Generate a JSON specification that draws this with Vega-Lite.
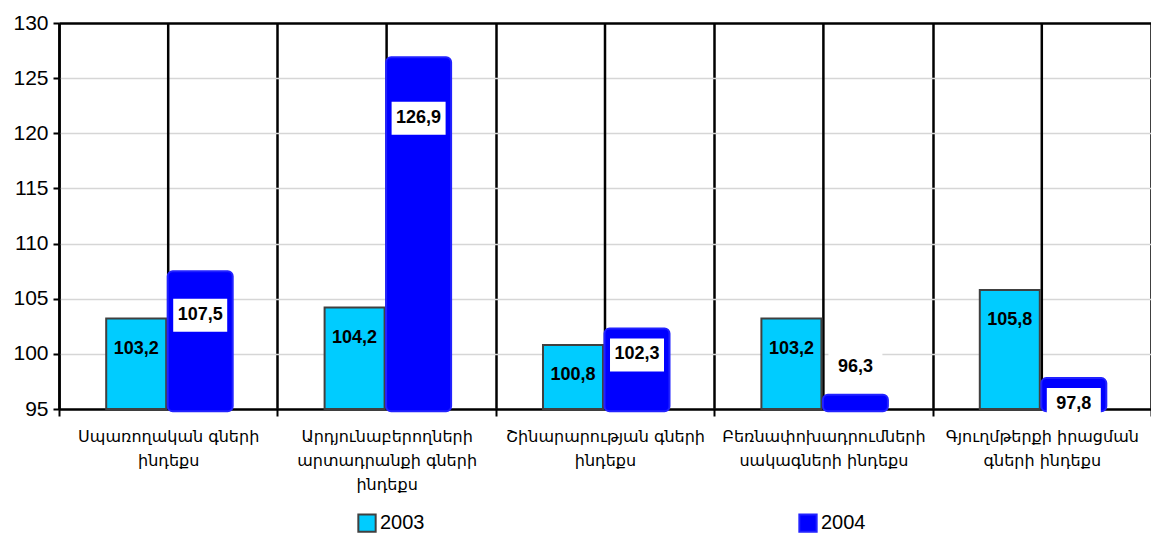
{
  "$schema": "https://vega.github.io/schema/vega-lite/v6.json",
  "width": 1092,
  "height": 386,
  "autosize": {"type": "none"},
  "padding": {"left": 59, "top": 23, "right": 0, "bottom": 128},
  "config": {
    "view": {"stroke": null},
    "font": "Liberation Sans",
    "locale": {"number": {"decimal": ",", "thousands": " ", "grouping": [3], "currency": ["", ""]}}
  },
  "data": {
    "values": [
      {"category": "Սպառողական գների\nինդեքս", "year": "2003", "value": 103.2},
      {"category": "Սպառողական գների\nինդեքս", "year": "2004", "value": 107.5},
      {"category": "Արդյունաբերողների\nարտադրանքի գների\nինդեքս", "year": "2003", "value": 104.2},
      {"category": "Արդյունաբերողների\nարտադրանքի գների\nինդեքս", "year": "2004", "value": 126.9},
      {"category": "Շինարարության գների\nինդեքս", "year": "2003", "value": 100.8},
      {"category": "Շինարարության գների\nինդեքս", "year": "2004", "value": 102.3},
      {"category": "Բեռնափոխադրումների\nսակագների ինդեքս", "year": "2003", "value": 103.2},
      {"category": "Բեռնափոխադրումների\nսակագների ինդեքս", "year": "2004", "value": 96.3},
      {"category": "Գյուղմթերքի իրացման\nգների ինդեքս", "year": "2003", "value": 105.8},
      {"category": "Գյուղմթերքի իրացման\nգների ինդեքս", "year": "2004", "value": 97.8}
    ]
  },
  "encoding": {
    "x": {
      "field": "category",
      "type": "nominal",
      "sort": null,
      "title": null,
      "scale": {"paddingInner": 0, "paddingOuter": 0},
      "axis": {
        "tickBand": "extent",
        "grid": true,
        "gridColor": "black",
        "gridWidth": 2.5,
        "ticks": true,
        "tickColor": "black",
        "tickWidth": 2,
        "tickSize": 7,
        "domainColor": "black",
        "domainWidth": 2.5,
        "labelAngle": 0,
        "labelExpr": "split(datum.label, '\\n')",
        "labelFont": "DejaVu Sans",
        "labelFontSize": 16,
        "labelLineHeight": 24,
        "labelColor": "black",
        "labelPadding": 12,
        "labelLimit": 0
      }
    }
  },
  "layer": [
    {
      "transform": [{"filter": "datum.year === '2003'"}],
      "mark": {"type": "rule", "color": "black", "strokeWidth": 2.5},
      "encoding": {}
    },
    {
      "transform": [{"filter": "datum.year === '2003'"}],
      "mark": {"type": "bar", "width": 60, "strokeWidth": 2, "opacity": 1},
      "encoding": {
        "xOffset": {"field": "year", "type": "nominal", "scale": {"domain": ["2003", "2004"], "paddingInner": 0, "paddingOuter": 0.706}},
        "y": {
          "field": "value", "type": "quantitative", "title": null,
          "scale": {"domain": [95, 130], "nice": false, "zero": false},
          "axis": {
            "values": [95, 100, 105, 110, 115, 120, 125, 130],
            "grid": true,
            "gridColor": {"condition": {"test": "datum.value === 130", "value": "black"}, "value": "#d6d6d6"},
            "gridWidth": {"condition": {"test": "datum.value === 130", "value": 2.5}, "value": 1.5},
            "domainColor": "black", "domainWidth": 2.5,
            "tickColor": "black", "tickWidth": 2, "tickSize": 6,
            "labelFontSize": 21, "labelColor": "black", "labelPadding": 5
          }
        },
        "y2": {"datum": 95},
        "color": {"field": "year", "type": "nominal", "title": null,
          "scale": {"domain": ["2003", "2004"], "range": ["#00CCFF", "#0000FF"]},
          "legend": {"orient": "none", "legendX": 298, "legendY": 490, "direction": "horizontal", "columnPadding": 370, "symbolType": "square", "symbolSize": 300, "symbolStrokeWidth": 2, "labelFontSize": 20, "labelColor": "black", "labelOffset": 3}},
        "stroke": {"field": "year", "type": "nominal", "title": null,
          "scale": {"domain": ["2003", "2004"], "range": ["#404040", "#2222ff"]},
          "legend": {"orient": "none", "legendX": 298, "legendY": 490, "direction": "horizontal", "columnPadding": 370, "symbolType": "square", "symbolSize": 300, "symbolStrokeWidth": 2, "labelFontSize": 20, "labelColor": "black", "labelOffset": 3}}
      }
    },
    {
      "transform": [{"filter": "datum.year === '2004'"}],
      "mark": {"type": "bar", "width": 65, "strokeWidth": 2, "cornerRadius": 5, "opacity": 1},
      "encoding": {
        "xOffset": {"field": "year", "type": "nominal", "scale": {"domain": ["2003", "2004"], "paddingInner": 0, "paddingOuter": 0.706}},
        "y": {
          "field": "value", "type": "quantitative", "title": null,
          "scale": {"domain": [95, 130], "nice": false, "zero": false},
          "axis": {
            "values": [95, 100, 105, 110, 115, 120, 125, 130],
            "grid": true,
            "gridColor": {"condition": {"test": "datum.value === 130", "value": "black"}, "value": "#d6d6d6"},
            "gridWidth": {"condition": {"test": "datum.value === 130", "value": 2.5}, "value": 1.5},
            "domainColor": "black", "domainWidth": 2.5,
            "tickColor": "black", "tickWidth": 2, "tickSize": 6,
            "labelFontSize": 21, "labelColor": "black", "labelPadding": 5
          }
        },
        "y2": {"datum": 94.8},
        "color": {"field": "year", "type": "nominal", "title": null,
          "scale": {"domain": ["2003", "2004"], "range": ["#00CCFF", "#0000FF"]},
          "legend": {"orient": "none", "legendX": 298, "legendY": 490, "direction": "horizontal", "columnPadding": 370, "symbolType": "square", "symbolSize": 300, "symbolStrokeWidth": 2, "labelFontSize": 20, "labelColor": "black", "labelOffset": 3}},
        "stroke": {"field": "year", "type": "nominal", "title": null,
          "scale": {"domain": ["2003", "2004"], "range": ["#404040", "#2222ff"]},
          "legend": {"orient": "none", "legendX": 298, "legendY": 490, "direction": "horizontal", "columnPadding": 370, "symbolType": "square", "symbolSize": 300, "symbolStrokeWidth": 2, "labelFontSize": 20, "labelColor": "black", "labelOffset": 3}}
      }
    },
    {
      "transform": [{"filter": "datum.year === '2003'"}],
      "mark": {"type": "text", "dy": 30, "fontSize": 18, "fontWeight": "bold", "color": "black", "baseline": "middle"},
      "encoding": {
        "xOffset": {"field": "year", "type": "nominal", "scale": {"domain": ["2003", "2004"], "paddingInner": 0, "paddingOuter": 0.706}},
        "y": {"field": "value", "type": "quantitative", "scale": {"domain": [95, 130], "nice": false, "zero": false}, "title": null},
        "text": {"field": "value", "type": "quantitative", "format": ".1f"}
      }
    },
    {
      "transform": [{"filter": "datum.year === '2004' && datum.value > 120"}],
      "layer": [
        {"mark": {"type": "point", "filled": true, "color": "white", "opacity": 1, "size": 2916, "shape": "M-1,1.648H1V2.87H-1Z"}},
        {"mark": {"type": "text", "dy": 61, "fontSize": 18, "fontWeight": "bold", "color": "black", "baseline": "middle"},
         "encoding": {"text": {"field": "value", "type": "quantitative", "format": ".1f"}}}
      ],
      "encoding": {
        "xOffset": {"field": "year", "type": "nominal", "scale": {"domain": ["2003", "2004"], "paddingInner": 0, "paddingOuter": 0.706}},
        "y": {"field": "value", "type": "quantitative", "scale": {"domain": [95, 130], "nice": false, "zero": false}, "title": null}
      }
    },
    {
      "transform": [{"filter": "datum.year === '2004' && datum.value > 105 && datum.value <= 120"}],
      "layer": [
        {"mark": {"type": "point", "filled": true, "color": "white", "opacity": 1, "size": 2916, "shape": "M-1,1.019H1V2.241H-1Z"}},
        {"mark": {"type": "text", "dy": 44, "fontSize": 18, "fontWeight": "bold", "color": "black", "baseline": "middle"},
         "encoding": {"text": {"field": "value", "type": "quantitative", "format": ".1f"}}}
      ],
      "encoding": {
        "xOffset": {"field": "year", "type": "nominal", "scale": {"domain": ["2003", "2004"], "paddingInner": 0, "paddingOuter": 0.706}},
        "y": {"field": "value", "type": "quantitative", "scale": {"domain": [95, 130], "nice": false, "zero": false}, "title": null}
      }
    },
    {
      "transform": [{"filter": "datum.year === '2004' && datum.value > 97 && datum.value <= 105"}],
      "layer": [
        {"mark": {"type": "point", "filled": true, "color": "white", "opacity": 1, "size": 2916, "shape": "M-1,0.37H1V1.592H-1Z"}},
        {"mark": {"type": "text", "dy": 26, "fontSize": 18, "fontWeight": "bold", "color": "black", "baseline": "middle"},
         "encoding": {"text": {"field": "value", "type": "quantitative", "format": ".1f"}}}
      ],
      "encoding": {
        "xOffset": {"field": "year", "type": "nominal", "scale": {"domain": ["2003", "2004"], "paddingInner": 0, "paddingOuter": 0.706}},
        "y": {"field": "value", "type": "quantitative", "scale": {"domain": [95, 130], "nice": false, "zero": false}, "title": null}
      }
    },
    {
      "transform": [{"filter": "datum.year === '2004' && datum.value <= 97"}],
      "layer": [
        {"mark": {"type": "point", "filled": true, "color": "white", "opacity": 1, "size": 2916, "shape": "M-1,-1.648H1V-0.426H-1Z"}},
        {"mark": {"type": "text", "dy": -28, "fontSize": 18, "fontWeight": "bold", "color": "black", "baseline": "middle"},
         "encoding": {"text": {"field": "value", "type": "quantitative", "format": ".1f"}}}
      ],
      "encoding": {
        "xOffset": {"field": "year", "type": "nominal", "scale": {"domain": ["2003", "2004"], "paddingInner": 0, "paddingOuter": 0.706}},
        "y": {"field": "value", "type": "quantitative", "scale": {"domain": [95, 130], "nice": false, "zero": false}, "title": null}
      }
    }
  ]
}
